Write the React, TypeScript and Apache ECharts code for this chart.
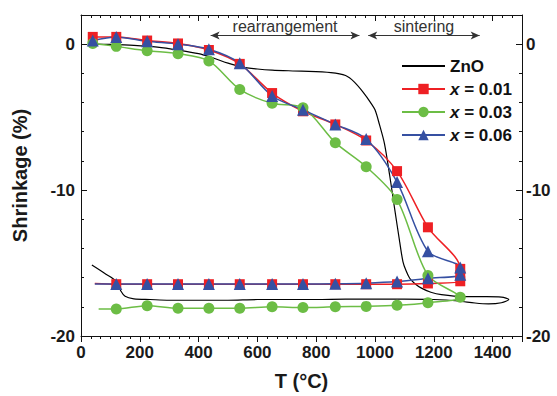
import React, { useEffect, useRef } from 'react';
import * as echarts from 'echarts';

// ---- Data ----
const redT = [40, 120, 225, 330, 435, 540, 650, 755, 865, 970, 1075, 1180, 1290, 1290, 1290, 1180, 1075, 970, 865, 755, 650, 540, 435, 330, 225, 120, 47];
const redS = [0.5, 0.5, 0.25, 0.05, -0.4, -1.35, -3.35, -4.6, -5.5, -6.6, -8.7, -12.55, -15.4, -15.85, -16.25, -16.4, -16.45, -16.45, -16.45, -16.45, -16.45, -16.45, -16.45, -16.45, -16.45, -16.45, -16.4];

const greenT = [40, 120, 225, 330, 435, 540, 650, 755, 865, 970, 1075, 1180, 1290, 1180, 1075, 970, 865, 755, 650, 540, 435, 330, 225, 120, 60];
const greenS = [0.05, -0.15, -0.45, -0.65, -1.15, -3.1, -4.05, -4.35, -6.75, -8.4, -10.65, -15.85, -17.35, -17.72, -17.9, -17.97, -18.0, -18.05, -18.0, -18.1, -18.1, -18.1, -17.92, -18.15, -18.15];

const blueT = [40, 120, 225, 330, 435, 540, 650, 755, 865, 970, 1075, 1180, 1290, 1290, 1180, 1075, 970, 865, 755, 650, 540, 435, 330, 225, 120, 47];
const blueS = [0.25, 0.5, 0.2, 0.0, -0.35, -1.3, -3.55, -4.5, -5.5, -6.5, -9.45, -14.2, -15.3, -15.8, -16.05, -16.27, -16.38, -16.42, -16.43, -16.43, -16.43, -16.43, -16.43, -16.43, -16.43, -16.43];

const znoT = [40, 100, 180, 260, 330, 400, 450, 500, 545, 600, 650, 750, 850, 900, 930, 960, 985, 1000, 1015, 1032, 1050, 1067, 1084, 1095, 1105, 1118, 1135, 1158, 1190, 1226, 1300, 1380, 1430, 1455, 1430, 1386, 1340, 1283, 1200, 1100, 1000, 900, 800, 700, 600, 500, 400, 300, 235, 180, 150, 135, 121, 80, 37];
const znoS = [0, -0.02, -0.08, -0.2, -0.4, -0.65, -0.95, -1.3, -1.55, -1.7, -1.78, -1.85, -1.95, -2.15, -2.6, -3.3, -4.0, -4.5, -5.5, -6.8, -9.0, -11.3, -13.55, -14.9, -15.5, -16.04, -16.4, -16.72, -17.0, -17.17, -17.3, -17.3, -17.33, -17.5, -17.72, -17.8, -17.74, -17.6, -17.5, -17.47, -17.47, -17.47, -17.5, -17.5, -17.5, -17.55, -17.55, -17.55, -17.5, -17.45, -17.28, -16.9, -16.27, -15.7, -15.14];

const seriesNames = ['ZnO', 'x = 0.01', 'x = 0.03', 'x = 0.06'];
const xTickLabels = [0, 200, 400, 600, 800, 1000, 1200, 1400];
const yTickLabels = [-20, -10, 0];
const phases = [
  { name: 'rearrangement', from: 441, to: 947 },
  { name: 'sintering', from: 977, to: 1356 },
];

const FONT = "'Liberation Sans', Arial, Helvetica, sans-serif";
const RED = '#ee2024';
const GREEN = '#6cbd45';
const BLUE = '#3650a2';

function pairs(T: number[], S: number[], noMarkerLast: boolean) {
  return T.map((t, i) => {
    if (noMarkerLast && i === T.length - 1) return { value: [t, S[i]], symbol: 'none' };
    return { value: [t, S[i]] };
  });
}

export default function App() {
  const ref = useRef<HTMLDivElement>(null);
  useEffect(() => {
    if (!ref.current) return;
    const chart = echarts.init(ref.current, null, { renderer: 'svg' });
    const axisColor = '#111';
    const xBase = {
      type: 'value', min: 0, max: 1500,
      splitLine: { show: false },
    };
    const yBase = {
      type: 'value', min: -20, max: 2,
      splitLine: { show: false },
    };
    const shownLine = { show: true, onZero: false, lineStyle: { color: axisColor, width: 1 } };
    const hiddenLine = { show: false, onZero: false };
    const labelStyle = { fontFamily: FONT, fontWeight: 'bold', fontSize: 17, color: '#1a1a1a' };
    const option: any = {
      animation: false,
      backgroundColor: '#fff',
      grid: { left: 81, right: 35, top: 15, bottom: 58 },
      xAxis: [
        {
          ...xBase, position: 'bottom', interval: 200, axisLine: shownLine,
          axisTick: { inside: false, length: 6, lineStyle: { color: axisColor } },
          axisLabel: { ...labelStyle, margin: 8, formatter: (v: number) => (xTickLabels.includes(v) ? String(v) : '') },
          name: 'T (°C)', nameLocation: 'middle', nameGap: 35,
          nameTextStyle: { fontFamily: FONT, fontWeight: 'bold', fontSize: 20, color: '#1a1a1a' },
        },
        {
          ...xBase, position: 'bottom', interval: 100 / 3, axisLine: hiddenLine,
          axisTick: { inside: false, length: 3, lineStyle: { color: axisColor } },
          axisLabel: { show: false },
        },
        {
          ...xBase, position: 'top', interval: 200, axisLine: shownLine,
          axisTick: { inside: true, length: 6, lineStyle: { color: axisColor } },
          axisLabel: { show: false },
        },
        {
          ...xBase, position: 'top', interval: 100 / 3, axisLine: hiddenLine,
          axisTick: { inside: true, length: 3, lineStyle: { color: axisColor } },
          axisLabel: { show: false },
        },
      ],
      yAxis: [
        {
          ...yBase, position: 'left', interval: 10, axisLine: shownLine,
          axisTick: { inside: true, length: 6, lineStyle: { color: axisColor } },
          axisLabel: { ...labelStyle, margin: 6, formatter: (v: number) => (yTickLabels.includes(v) ? String(v) : '') },
          name: 'Shrinkage (%)', nameLocation: 'middle', nameGap: 51, nameRotate: 90,
          nameTextStyle: { fontFamily: FONT, fontWeight: 'bold', fontSize: 20, color: '#1a1a1a' },
        },
        {
          ...yBase, position: 'left', interval: 2, axisLine: hiddenLine,
          axisTick: { inside: true, length: 3, lineStyle: { color: axisColor } },
          axisLabel: { show: false },
        },
        {
          ...yBase, position: 'right', interval: 10, axisLine: shownLine,
          axisTick: { inside: true, length: 6, lineStyle: { color: axisColor } },
          axisLabel: { ...labelStyle, margin: 4, formatter: (v: number) => (yTickLabels.includes(v) ? String(v) : '') },
        },
        {
          ...yBase, position: 'right', interval: 2, axisLine: hiddenLine,
          axisTick: { inside: true, length: 3, lineStyle: { color: axisColor } },
          axisLabel: { show: false },
        },
      ],
      legend: {
        orient: 'vertical', left: 396, top: 52,
        itemWidth: 43, itemHeight: 13, itemGap: 5,
        data: seriesNames.map((n) => (n === 'ZnO' ? { name: n, itemStyle: { color: 'rgba(0,0,0,0)', borderWidth: 0 } } : { name: n })),
        formatter: (name: string) => (name.startsWith('x') ? '{i|x}{n|' + name.slice(1) + '}' : '{n|' + name + '}'),
        textStyle: {
          fontFamily: FONT, fontWeight: 'bold', fontSize: 17, color: '#111', lineHeight: 18,
          rich: {
            i: { fontFamily: FONT, fontWeight: 'bold', fontStyle: 'italic', fontSize: 17, color: '#111', lineHeight: 18 },
            n: { fontFamily: FONT, fontWeight: 'bold', fontSize: 17, color: '#111', lineHeight: 18 },
          },
        },
      },
      series: [
        {
          name: 'ZnO', type: 'line', xAxisIndex: 0, yAxisIndex: 0,
          data: znoT.map((t, i) => [t, znoS[i]]),
          smooth: 0.3, symbol: 'none',
          lineStyle: { color: '#000', width: 1.2 }, itemStyle: { color: '#000' },
          markLine: {
            silent: true, symbol: ['arrow', 'arrow'], symbolSize: [6, 9],
            lineStyle: { color: '#333', width: 1, type: 'solid' },
            label: {
              show: true, position: 'insideMiddleTop', distance: 1,
              fontFamily: FONT, fontSize: 16, color: '#333',
              formatter: (p: any) => p.name,
            },
            data: phases.map((p) => [
              { name: p.name, coord: [p.from, 0.6] },
              { coord: [p.to, 0.6] },
            ]),
          },
        },
        {
          name: 'x = 0.01', type: 'line', data: pairs(redT, redS, true),
          smooth: 0.3, symbol: 'rect', symbolSize: 10, showAllSymbol: true,
          lineStyle: { color: RED, width: 1.5 }, itemStyle: { color: RED },
        },
        {
          name: 'x = 0.03', type: 'line', data: pairs(greenT, greenS, true),
          smooth: 0.3, symbol: 'circle', symbolSize: 11, showAllSymbol: true,
          lineStyle: { color: GREEN, width: 1.5 }, itemStyle: { color: GREEN },
        },
        {
          name: 'x = 0.06', type: 'line', data: pairs(blueT, blueS, true),
          smooth: 0.3, symbol: 'triangle', symbolSize: 12, showAllSymbol: true,
          lineStyle: { color: BLUE, width: 1.5 }, itemStyle: { color: BLUE },
        },
      ],
    };
    chart.setOption(option);
    return () => chart.dispose();
  }, []);
  return <div ref={ref} style={{ position: 'fixed', left: 0, top: 0, width: 557, height: 396, background: '#fff' }} />;
}
